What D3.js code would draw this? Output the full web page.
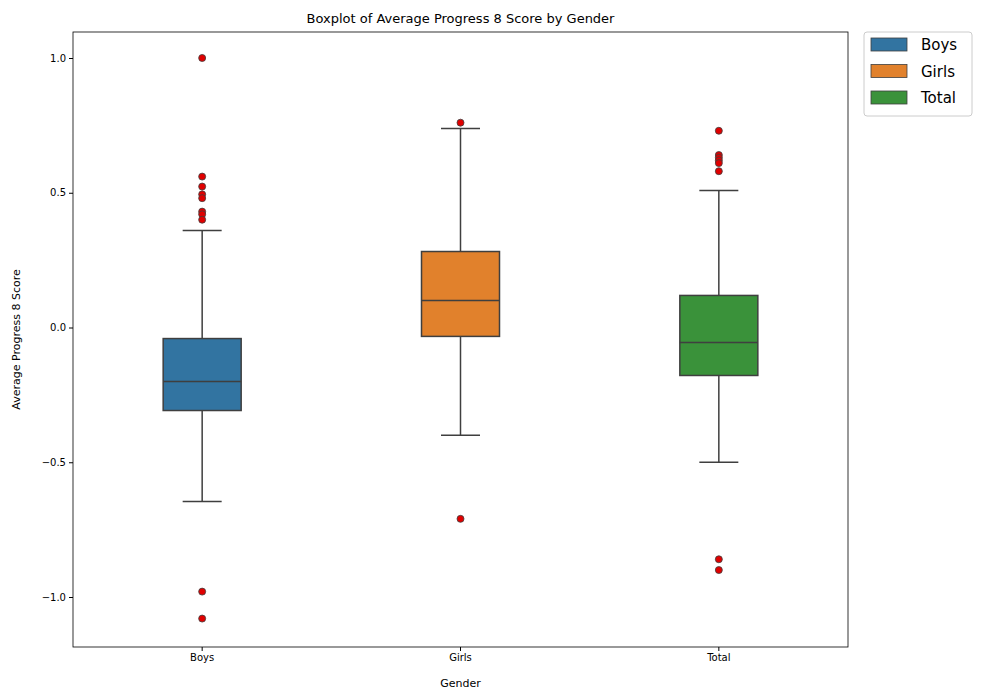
<!DOCTYPE html>
<html><head><meta charset="utf-8">
<script src="https://cdn.jsdelivr.net/npm/d3@7"></script>
<style>body{margin:0;background:#fff}text{font-family:"DejaVu Sans",sans-serif}</style>
</head><body><svg id="c" width="982" height="699"></svg>
<script>
const categories=["Boys","Girls","Total"];
const colors=["#3274a1","#e1812c","#3a923a"];
const q1=[-0.308,-0.033,-0.178];
const medians=[-0.200,0.100,-0.056];
const q3=[-0.041,0.282,0.119];
const whiskerLow=[-0.646,-0.40,-0.50];
const whiskerHigh=[0.360,0.738,0.508];
const outliers=[[1.0,0.56,0.523,0.494,0.48,0.43,0.42,0.40,-0.98,-1.08],[0.76,-0.71],[0.73,0.64,0.63,0.62,0.61,0.58,-0.86,-0.90]];
const yTicks=[-1.0,-0.5,0.0,0.5,1.0];

const svg=d3.select("#c");
const L=73,R=848,T=32,B=647;
const x=d3.scaleBand().domain(categories).range([L,R]);
const y=d3.scaleLinear().domain([-1.1855,1.0965]).range([B,T]);
const bw=78, lc="#3f3f3f";

svg.append("g").attr("transform",`translate(0,${B})`).call(d3.axisBottom(x).tickSizeOuter(0).tickSize(4)).call(g=>{g.select(".domain").remove();g.selectAll("text").attr("font-size",10).attr("fill","#000");});
svg.append("g").attr("transform",`translate(${L},0)`).call(d3.axisLeft(y).tickValues(yTicks).tickSize(4).tickFormat(d=>d3.format(".1f")(d).replace("-","−"))).call(g=>{g.select(".domain").remove();g.selectAll("text").attr("font-size",10).attr("fill","#000");});
svg.append("rect").attr("x",L).attr("y",T).attr("width",R-L).attr("height",B-T).attr("fill","none").attr("stroke","#000").attr("stroke-width",0.8);

categories.forEach((c,i)=>{
  const cx=x(c)+x.bandwidth()/2, g=svg.append("g");
  g.append("line").attr("x1",cx).attr("x2",cx).attr("y1",y(q3[i])).attr("y2",y(whiskerHigh[i])).attr("stroke",lc).attr("stroke-width",1.5);
  g.append("line").attr("x1",cx).attr("x2",cx).attr("y1",y(q1[i])).attr("y2",y(whiskerLow[i])).attr("stroke",lc).attr("stroke-width",1.5);
  [whiskerHigh[i],whiskerLow[i]].forEach(v=>g.append("line").attr("x1",cx-bw/4).attr("x2",cx+bw/4).attr("y1",y(v)).attr("y2",y(v)).attr("stroke",lc).attr("stroke-width",1.5));
  g.append("rect").attr("x",cx-bw/2).attr("width",bw).attr("y",y(q3[i])).attr("height",y(q1[i])-y(q3[i])).attr("fill",colors[i]).attr("stroke",lc).attr("stroke-width",1.5);
  g.append("line").attr("x1",cx-bw/2).attr("x2",cx+bw/2).attr("y1",y(medians[i])).attr("y2",y(medians[i])).attr("stroke",lc).attr("stroke-width",1.5);
  outliers[i].forEach(v=>g.append("circle").attr("cx",cx).attr("cy",y(v)).attr("r",3.5).attr("fill","#e00000").attr("stroke",lc).attr("stroke-width",0.8));
});

svg.append("text").attr("x",(L+R)/2).attr("y",T-9).attr("text-anchor","middle").attr("font-size",13).text("Boxplot of Average Progress 8 Score by Gender");
svg.append("text").attr("x",(L+R)/2).attr("y",687).attr("text-anchor","middle").attr("font-size",11).text("Gender");
svg.append("text").attr("transform",`translate(20,${(T+B)/2}) rotate(-90)`).attr("text-anchor","middle").attr("font-size",11).text("Average Progress 8 Score");

const lg=svg.append("g");
lg.append("rect").attr("x",864).attr("y",32).attr("width",108).attr("height",84).attr("rx",3).attr("fill","#fff").attr("stroke","#ccc");
categories.forEach((c,i)=>{
  const yy=38+i*26.5;
  lg.append("rect").attr("x",871).attr("y",yy).attr("width",36).attr("height",13).attr("fill",colors[i]).attr("stroke",lc).attr("stroke-width",0.8);
  lg.append("text").attr("x",921).attr("y",yy+12).attr("font-size",15).text(c);
});
</script></body></html>
